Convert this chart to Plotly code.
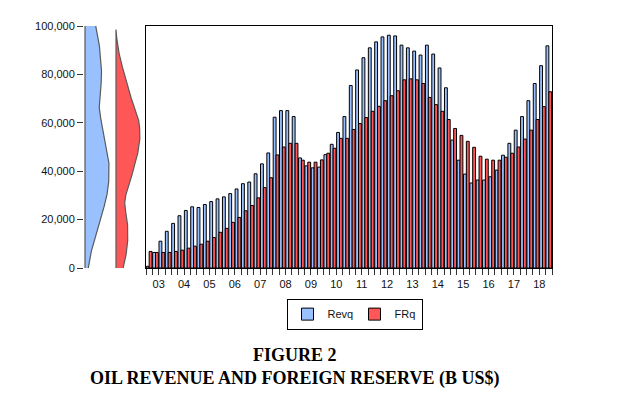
import numpy as np
import plotly.graph_objects as go

# Quarterly data 2003Q1 - 2018Q4
revq = [700, 6430, 11070, 15160, 18440, 21600, 23770, 25290,
        25000, 26230, 27460, 28570, 29390, 30740, 32660, 34840,
        35530, 38930, 43030, 47540, 62300, 65040, 65040, 62580,
        45490, 42210, 41390, 41680, 46840, 51110, 56020, 62580,
        75410, 81840, 86890, 90980, 93440, 95490, 96190, 95900,
        92090, 90980, 89630, 87990, 92090, 88400, 82660, 74470,
        52870, 44550, 38810, 35120, 36350, 36350, 37700, 40450,
        46600, 51520, 56970, 62580, 69140, 76230, 83610, 91800]
frq = [6840, 6430, 6430, 6430, 6840, 7380, 8200, 9020,
       9840, 11070, 12580, 14750, 16390, 18850, 20900, 23650,
       25820, 28980, 33200, 37300, 46720, 50000, 51520, 51520,
       44550, 43730, 43730, 44670, 47420, 49470, 53570, 53570,
       57250, 59710, 62170, 64750, 66800, 69140, 71190, 73240,
       77750, 78160, 77750, 76230, 70490, 67500, 64750, 61350,
       57660, 54800, 52340, 49880, 46190, 44960, 44550, 44550,
       45780, 47420, 50000, 53280, 56970, 61350, 66680, 72830]
year_labels = ["03", "04", "05", "06", "07", "08", "09", "10",
               "11", "12", "13", "14", "15", "16", "17", "18"]
y_ticks = [0, 20000, 40000, 60000, 80000, 100000]

BLUE = "#99C0FF"
RED = "#FF5757"
GREY = "#5a5a5a"
FONT = "Arial, Liberation Sans, sans-serif"
OFF = 8  # page body margin offset


def epan_kde(vals):
    v = np.asarray(vals, float)
    n = len(v)
    s = v.std(ddof=1)
    iqr = np.subtract(*np.percentile(v, [75, 25]))
    h = 0.9 * 2.34 * min(s, iqr / 1.34) * n ** (-0.2)
    grid = np.linspace(v.min() - h, v.max() + h, 500)
    u = (grid[:, None] - v[None, :]) / h
    k = np.where(np.abs(u) < 1, 0.75 * (1 - u ** 2), 0.0)
    d = k.sum(axis=1) / (n * h)
    return grid, d


x_idx = np.arange(len(revq))

fig = go.Figure()

dens = {}
for key, vals, color, xa, ya in [("b", revq, BLUE, "x", "y"), ("r", frq, RED, "x2", "y2")]:
    g, d = epan_kde(vals)
    dens[key] = d.max()
    px = np.concatenate([[0, 0], d[::-1], [0]])
    py = np.concatenate([[g[0], g[-1]], g[::-1], [g[0]]])
    fig.add_trace(go.Scatter(x=px, y=py, mode="lines", fill="toself",
                             fillcolor=color, line=dict(color=GREY, width=1.2),
                             xaxis=xa, yaxis=ya, showlegend=False, hoverinfo="skip"))

fig.add_trace(go.Bar(x=x_idx, y=revq, name="Revq", marker=dict(color=BLUE, line=dict(color="black", width=1)),
                     xaxis="x3", yaxis="y3"))
fig.add_trace(go.Bar(x=x_idx, y=frq, name="FRq", marker=dict(color=RED, line=dict(color="black", width=1)),
                     xaxis="x3", yaxis="y3"))

# plot area in reference page pixels: x 84..552, y 24..268
PL, PR, PT, PB = 84, 552, 24, 268
W = PR - PL
H = PB - PT
L = PL - OFF
T = PT - OFF
R_ = 623 - L - W
B = 396 - T - H


def px2p(a, b):
    return [(a - PL) / W, (b - PL) / W]


def py2p(y):
    return (PB - y) / H


mb, mr = dens["b"], dens["r"]

fig.update_layout(
    width=623, height=396,
    margin=dict(l=L, r=R_, t=T, b=B),
    paper_bgcolor="white", plot_bgcolor="white",
    barmode="group", bargap=0.1, bargroupgap=0.0,
    font=dict(family=FONT, size=11, color="#111"),
    xaxis=dict(domain=px2p(84, 110), range=[-mb / 24, mb * 25 / 24], visible=False),
    xaxis2=dict(domain=px2p(115, 141), range=[-mr / 24, mr * 25 / 24], visible=False, anchor="y2"),
    xaxis3=dict(domain=px2p(146, 552), range=[-0.5, 63.5], anchor="y3",
                showline=True, mirror=True, linecolor="black", linewidth=1,
                tickmode="array", tickvals=[4 * i + 1.5 for i in range(16)], ticktext=year_labels,
                ticks="outside", ticklen=6, tickcolor="rgba(0,0,0,0)",
                minor=dict(tickmode="linear", tick0=-0.5, dtick=1, ticks="outside", ticklen=6,
                           tickcolor="#333", tickwidth=1, showgrid=False),
                showgrid=False, zeroline=False, tickfont=dict(size=11, color="#111")),
    yaxis=dict(range=[0, 100000], anchor="x", tickvals=y_ticks, tickformat=",d",
               ticks="outside", ticklen=6, tickcolor="#333", showline=False, showgrid=False,
               zeroline=False, tickfont=dict(size=11, color="#111")),
    yaxis2=dict(range=[0, 100000], anchor="x2", visible=False),
    yaxis3=dict(range=[0, 100000], anchor="x3", showline=True, mirror=True, linecolor="black",
                linewidth=1, showticklabels=False, ticks="", showgrid=False, zeroline=False),
    legend=dict(orientation="h", x=(354.5 - PL) / W, y=py2p(314.5), xanchor="center", yanchor="middle",
                bordercolor="black", borderwidth=1, bgcolor="white",
                font=dict(family=FONT, size=11, color="#111"), itemwidth=30, entrywidth=22,
                tracegroupgap=0),
    annotations=[
        dict(text="<b>FIGURE 2</b>", xref="paper", yref="paper", x=(294.5 - PL) / W, y=py2p(355.5),
             xanchor="center", yanchor="middle", showarrow=False,
             font=dict(family="Times New Roman, Liberation Serif, serif", size=18, color="black")),
        dict(text="<b>OIL REVENUE AND FOREIGN RESERVE (B US$)</b>", xref="paper", yref="paper",
             x=(294.5 - PL) / W, y=py2p(379), xanchor="center", yanchor="middle", showarrow=False,
             font=dict(family="Times New Roman, Liberation Serif, serif", size=18, color="black")),
    ],
)

fig.write_html("out.html")
